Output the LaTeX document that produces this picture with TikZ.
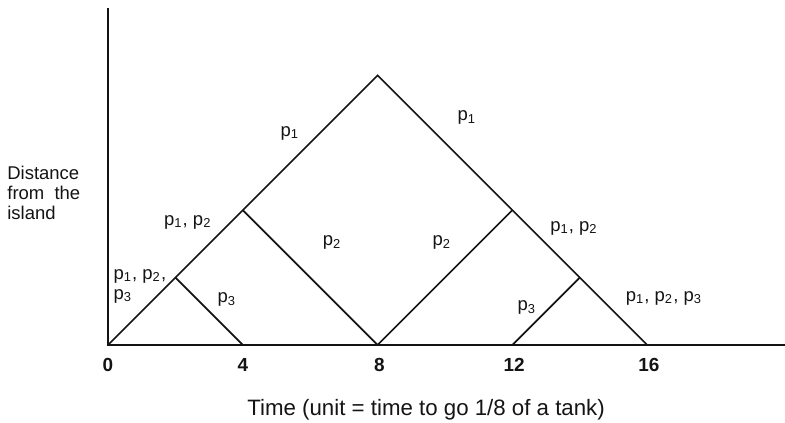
\documentclass[tikz,border=0pt]{standalone}
\usepackage{fontspec}
\setmainfont{Liberation Sans}
\usepackage{tikz}
\usetikzlibrary{positioning}
\definecolor{InkBlack}{RGB}{20,20,20}
\newcommand{\pk}[1]{p\textsubscript{#1}}

\begin{document}
\begin{tikzpicture}[x=0.5cm, y=0.5cm, font=\fontsize{7.8}{8.4}\selectfont,
	trip/.style={draw=InkBlack, line width=0.7pt},
	lbl/.style={inner sep=0pt, text=InkBlack},
	tick/.style={inner sep=0pt, text=InkBlack, font=\fontsize{8}{9}\selectfont\bfseries}]
	\useasboundingbox (-3.205,-2.315) rectangle (20.09,10.237);
	% axes
	\coordinate (O) at (0,0);
	\coordinate (ytop) at (0,10.0);
	\coordinate (xend) at (20.09,0);
	\draw[trip] (ytop) -- (O) -- (xend);
	% turning points
	\coordinate (A) at (2,2);
	\coordinate (B) at (4,4);
	\coordinate (P) at (8,8);
	\coordinate (C) at (12,4);
	\coordinate (D) at (14,2);
	\coordinate (t4) at (4,0);
	\coordinate (t8) at (8,0);
	\coordinate (t12) at (12,0);
	\coordinate (t16) at (16,0);
	\draw[trip] (O) -- (P) -- (t16);
	\draw[trip] (A) -- (t4);
	\draw[trip] (B) -- (t8) -- (C);
	\draw[trip] (t12) -- (D);
	% tick labels
	\node[tick] (n0) at (0,-0.58) {0};
	\node[tick] (n4) at (4,-0.58) {4};
	\node[tick] (n8) at (8.05,-0.58) {8};
	\node[tick] (n12) at (12.05,-0.58) {12};
	\node[tick] (n16) at (16.05,-0.58) {16};
	% axis titles
	\node[lbl, anchor=west, align=left] (ylab) at (-3.0,4.51) {Distance\\from\ \ the\\island};
	\node[lbl, font=\fontsize{9.4}{10}\selectfont] (xlab) at (9.44,-1.93) {Time (unit = time to go 1/8 of a tank)};
	% who travels where
	\node[lbl] (l1) at (5.40,6.29) {\pk{1}};
	\node[lbl] (r1) at (10.65,6.74) {\pk{1}};
	\node[lbl] (l12) at (2.37,3.65) {\pk{1}, \pk{2}};
	\node[lbl] (l2) at (6.65,3.03) {\pk{2}};
	\node[lbl] (r2) at (9.91,3.03) {\pk{2}};
	\node[lbl, anchor=west, align=left] (l123) at (0.15,1.74) {\pk{1}, \pk{2},\\\pk{3}};
	\node[lbl] (l3) at (3.53,1.34) {\pk{3}};
	\node[lbl] (r12) at (13.83,3.47) {\pk{1}, \pk{2}};
	\node[lbl] (r3) at (12.43,1.10) {\pk{3}};
	\node[lbl] (r123) at (16.50,1.39) {\pk{1}, \pk{2}, \pk{3}};
\end{tikzpicture}
\end{document}
